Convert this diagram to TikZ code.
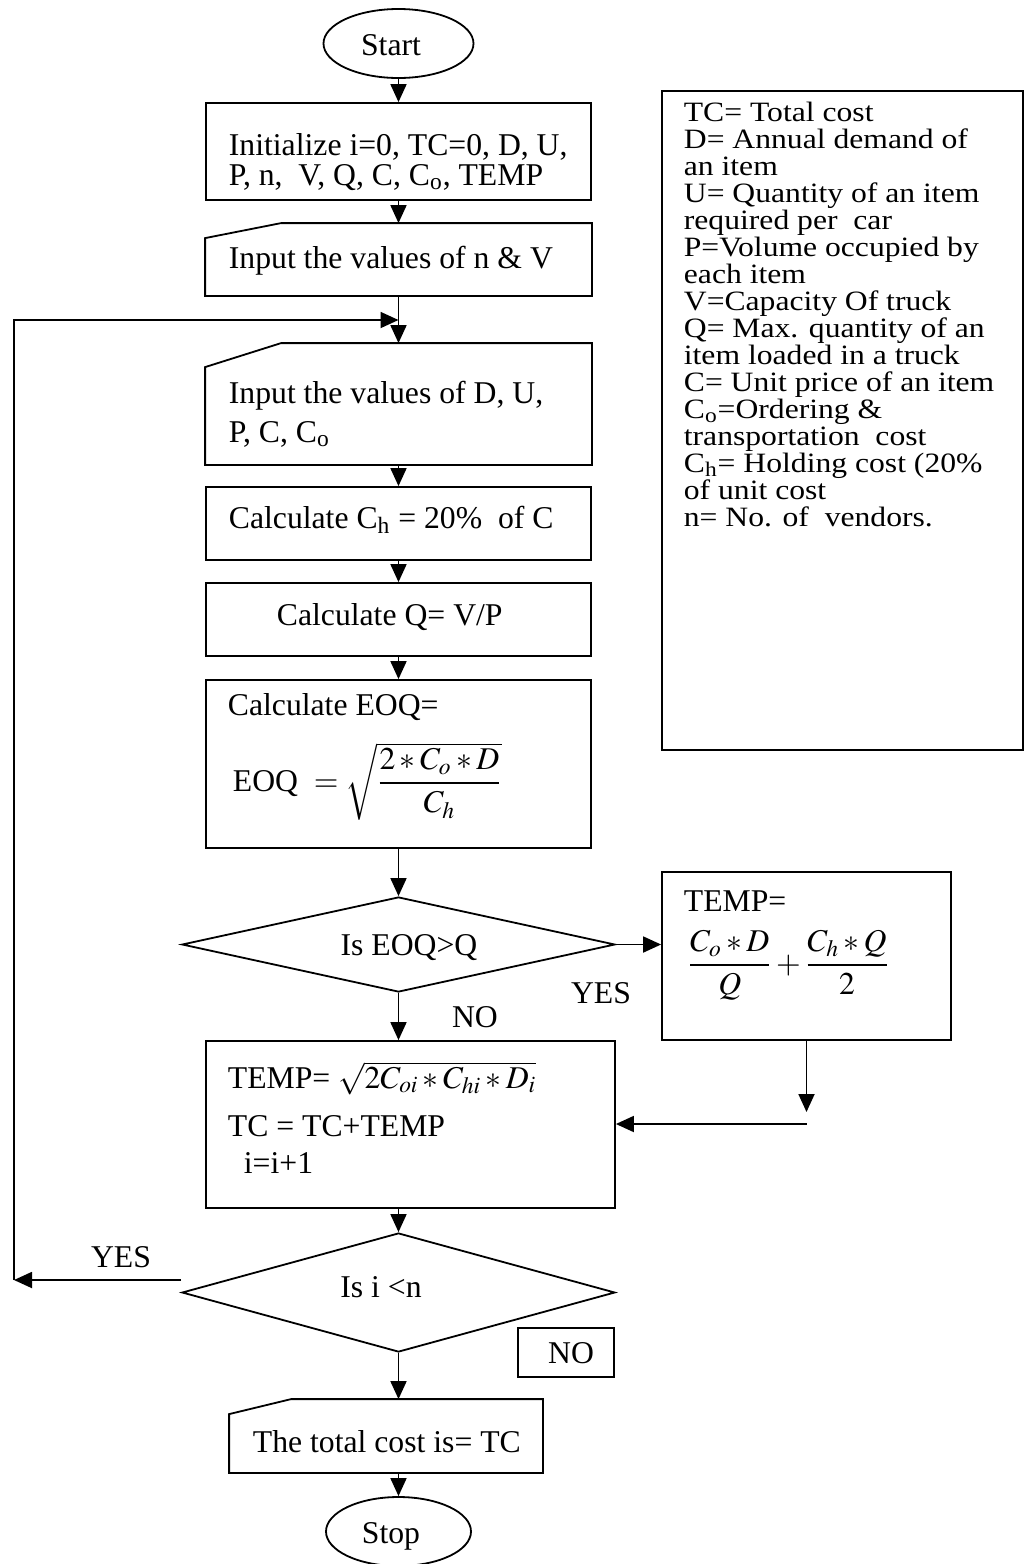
\documentclass[tikz,border=0pt]{standalone}
\usepackage{amsmath}
\usepackage{mathptmx}
\usepackage[no-math]{fontspec}
\setmainfont{Liberation Serif}
\newfontfamily\legendfont[FakeStretch=1.13]{Liberation Serif}
\usetikzlibrary{shapes.geometric, arrows.meta, positioning, calc}

\newcommand{\unitpx}{0.5pt}
\tikzset{
  box/.style={draw, rectangle, inner sep=0pt},
  inbox/.style={rectangle, inner sep=0pt},
  term/.style={draw, ellipse, inner sep=0pt},
  decide/.style={draw, diamond, inner sep=0pt},
  txt/.style={inner sep=0pt, anchor=base west},
  legtxt/.style={txt, font=\legendfont\fontsize{14}{14}\selectfont},
  arr/.style={-{Triangle[length=9pt,width=8pt]}}
}

\begin{document}
\begin{tikzpicture}[x=0.5pt, y=-0.5pt, line width=0.9pt,
  every node/.append style={font=\fontsize{15.85}{13.6}\selectfont}]
\useasboundingbox (0,0) rectangle (1027,1564);

% Flow shapes
\node[term, minimum width=150*\unitpx, minimum height=69*\unitpx] (start) at (398.5,43.5) {};
\node[box, minimum width=385*\unitpx, minimum height=97*\unitpx] (init) at (398.5,151.5) {};
\node[inbox, minimum width=385*\unitpx, minimum height=71*\unitpx] (in1) at (398.5,259.5) {};
\node[inbox, minimum width=385*\unitpx, minimum height=120*\unitpx] (in2) at (398.5,404) {};
\node[box, minimum width=385*\unitpx, minimum height=73*\unitpx] (ch) at (398.5,523.5) {};
\node[box, minimum width=385*\unitpx, minimum height=73*\unitpx] (qq) at (398.5,619.5) {};
\node[box, minimum width=385*\unitpx, minimum height=168*\unitpx] (eoq) at (398.5,764) {};
\node[decide, minimum width=433*\unitpx, minimum height=95*\unitpx] (d1) at (398.5,944.5) {};
\node[box, minimum width=289*\unitpx, minimum height=168*\unitpx] (t2) at (806.5,956) {};
\node[box, minimum width=409*\unitpx, minimum height=167*\unitpx] (t1) at (410.5,1124.5) {};
\node[decide, minimum width=433*\unitpx, minimum height=119*\unitpx] (d2) at (398.5,1292.5) {};
\node[box, minimum width=96*\unitpx, minimum height=49*\unitpx] (nobox) at (566,1352.5) {};
\node[inbox, minimum width=312*\unitpx, minimum height=72*\unitpx] (out) at (386,1436) {};
\node[term, minimum width=145*\unitpx, minimum height=69*\unitpx] (stop) at (398.5,1531.5) {};
\node[box, minimum width=361*\unitpx, minimum height=659*\unitpx] (legend) at (842.5,420.5) {};

% manual input outlines
\foreach \n/\dx/\dy in {in1/76/15, in2/76/24, out/62/15}
  \draw (\n.south west) -- (\n.south east) -- (\n.north east)
    -- ([xshift=\dx*\unitpx]\n.north west) -- ([yshift=-\dy*\unitpx]\n.north west) -- cycle;

% Texts
\node[anchor=base, inner sep=0pt] (startl) at (391,55) {Start};
\node[txt] (initl1) at (228,155) {Initialize i=0, TC=0, D, U,};
\node[txt] (initl2) at (228,185) {P, n,\ \ V, Q, C, C\textsubscript{o}, TEMP};
\node[txt] (in1l) at (228,268) {Input the values of n \& V};
\node[txt] (in2l1) at (228,403) {Input the values of D, U,};
\node[txt] (in2l2) at (228,442) {P, C, C\textsubscript{o}};
\node[txt] (chl) at (228,528) {Calculate C\textsubscript{h} = 20\%\ \ of C};
\node[txt] (qql) at (276,625) {Calculate Q= V/P};
\node[txt] (eoql1) at (227,715) {Calculate EOQ=};
\node[txt] (eoql2) at (232,791) {EOQ\ \ $=\sqrt{\dfrac{2*C_o*D}{C_h}}$};
\node[anchor=base, inner sep=0pt] (d1l) at (409,955) {Is EOQ>Q};
\node[txt] (t2l1) at (683,911) {TEMP=};
\node[txt] (t2l2) at (687,973) {$\dfrac{C_o*D}{Q}+\dfrac{C_h*Q}{2}$};
\node[anchor=base, inner sep=0pt] (yes1) at (601,1003) {YES};
\node[anchor=base, inner sep=0pt] (no1) at (475,1027) {NO};
\node[txt] (t1l1) at (227,1088) {TEMP=\ $\sqrt{2C_{oi}*C_{hi}*D_i}$};
\node[txt] (t1l2) at (227,1136) {TC = TC+TEMP};
\node[txt] (t1l3) at (243,1173) {i=i+1};
\node[anchor=base, inner sep=0pt] (yes2) at (121,1267) {YES};
\node[anchor=base, inner sep=0pt] (d2l) at (381,1297) {Is i <n};
\node[anchor=base, inner sep=0pt] (no2) at (571,1363) {NO};
\node[txt] (outl) at (252,1452) {The total cost is= TC};
\node[anchor=base, inner sep=0pt] (stopl) at (391,1543) {Stop};

% Legend lines
\foreach \t [count=\i] in {TC= Total cost, D= Annual demand of, an item,
  U= Quantity of an item, required per\ \ car, P=Volume occupied by,
  each item, V=Capacity Of truck, Q= Max. quantity of an,
  item loaded in a truck, C= Unit price of an item,
  \smash{C\textsubscript{o}}=Ordering \&, transportation\ \ cost,
  \smash{C\textsubscript{h}}= Holding cost (20\%, of unit cost, n= No. of\ \ vendors.}
  \node[legtxt] (leg\i) at (683,{121+27*(\i-1)}) {\t};

% Connectors
\coordinate (merge) at (398.5,320);
\coordinate (lb) at (14,1280);
\coordinate (lt) at (14,320);
\coordinate (rb) at (806.5,1112);
\coordinate (rh) at (806.5,1124);
\draw[arr] (start.south) -- (init.north);
\draw[arr] (init.south) -- (in1.north);
\draw[arr] (in1.south) -- (in2.north);
\draw[arr] (in2.south) -- (ch.north);
\draw[arr] (ch.south) -- (qq.north);
\draw[arr] (qq.south) -- (eoq.north);
\draw[arr] (eoq.south) -- (d1.north);
\draw[arr] (d1.east) -- (d1.east -| t2.west);
\draw[arr] (d1.south) -- (d1.south |- t1.north);
\draw[arr] (t2.south) -- (rb);
\draw[arr] (rh) -- (rh -| t1.east);
\draw[arr] (t1.south -| d2.north) -- (d2.north);
\draw[arr] ([yshift=6.25pt]d2.west) -- (lb);
\draw[arr] (lb) -- (lt) -- (merge);
\draw[arr] (d2.south) -- (d2.south |- out.north);
\draw[arr] (out.south -| stop.north) -- (stop.north);
\end{tikzpicture}
\end{document}
